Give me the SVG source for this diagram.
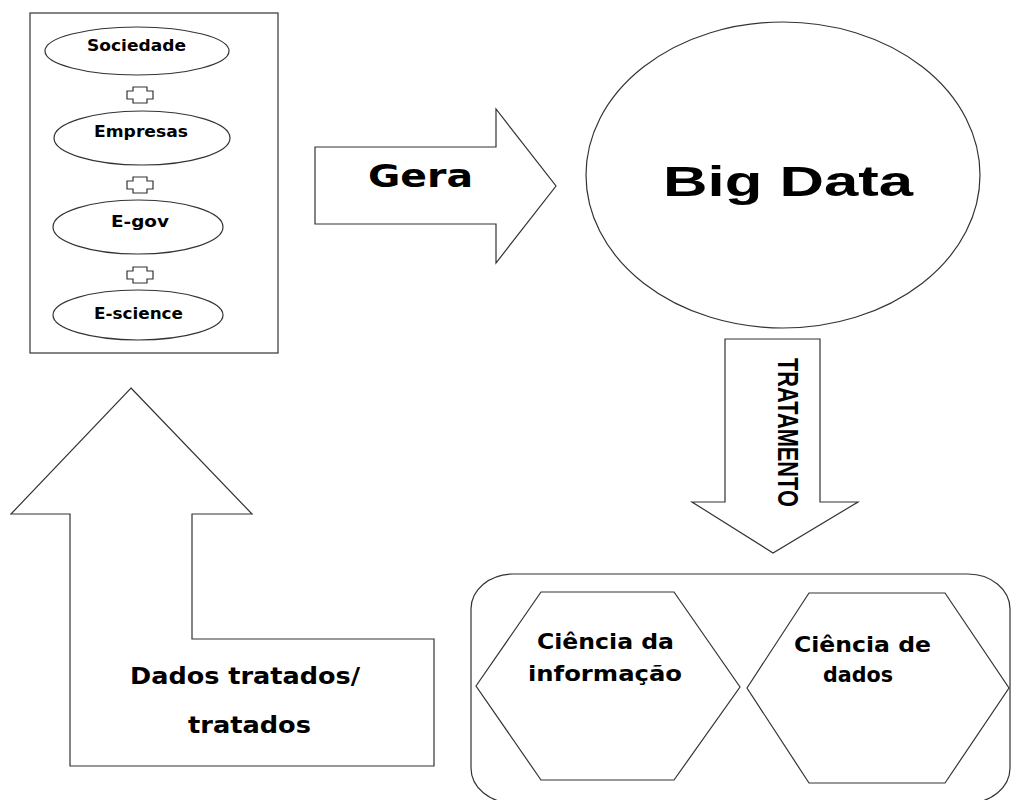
<svg xmlns="http://www.w3.org/2000/svg" width="1011" height="800" viewBox="0 0 1011 800">
<defs>
<style>
.s{fill:#fff;stroke:#333;stroke-width:1.2;stroke-linejoin:miter}
.t{font-family:"DejaVu Sans","Verdana",sans-serif;font-weight:bold;fill:#000}
.a{font-family:"Liberation Sans","Arial",sans-serif;font-weight:bold;fill:#000}
</style>
<path id="plus" d="M-7,-8 H7 V-4 H13 V4 H7 V8 H-7 V4 H-13 V-4 H-7 Z"/>
</defs>
<rect width="1011" height="800" fill="#fff"/>

<g id="sources">
<rect class="s" x="30" y="13" width="248" height="340"/>
<g id="sociedade"><ellipse class="s" cx="137" cy="51" rx="92" ry="24"/><text class="t" x="87" y="51" font-size="16.5" textLength="99" lengthAdjust="spacingAndGlyphs">Sociedade</text></g>
<g id="empresas"><ellipse class="s" cx="142" cy="138" rx="88" ry="27"/><text class="t" x="94" y="137" font-size="16.5" textLength="94" lengthAdjust="spacingAndGlyphs">Empresas</text></g>
<g id="egov"><ellipse class="s" cx="138" cy="227" rx="85" ry="27"/><text class="t" x="111" y="227" font-size="16.5" textLength="58" lengthAdjust="spacingAndGlyphs">E-gov</text></g>
<g id="escience"><ellipse class="s" cx="138" cy="315" rx="85" ry="25"/><text class="t" x="94" y="319" font-size="16.5" textLength="89" lengthAdjust="spacingAndGlyphs">E-science</text></g>
<use href="#plus" class="s" x="140" y="95"/>
<use href="#plus" class="s" x="140" y="185"/>
<use href="#plus" class="s" x="140" y="275"/>
</g>

<g id="bigdata">
<ellipse class="s" cx="783" cy="175" rx="197" ry="153"/>
<text class="a" x="663" y="196" font-size="43" textLength="250" lengthAdjust="spacingAndGlyphs">Big Data</text>
</g>

<g id="ciencias">
<rect class="s" x="471" y="574" width="539" height="229" rx="42" ry="35"/>
<g id="ci"><polygon class="s" points="476,686 541,592 674,592 740,687 674,780 541,780"/>
<text class="t" x="537" y="649" font-size="21.5" textLength="137" lengthAdjust="spacingAndGlyphs">Ciência da</text>
<text class="t" x="528" y="681" font-size="21.5" textLength="154" lengthAdjust="spacingAndGlyphs">informação</text></g>
<g id="cd"><polygon class="s" points="747,688 809,593 945,593 1009,688 945,783 809,783"/>
<text class="t" x="794" y="652" font-size="21.5" textLength="137" lengthAdjust="spacingAndGlyphs">Ciência de</text>
<text class="t" x="823" y="682" font-size="21.5" textLength="70" lengthAdjust="spacingAndGlyphs">dados</text></g>
</g>

<g id="connectors">
<g id="gera"><polygon class="s" points="315,147 496,147 496,109 556,186 496,263 496,224 315,224"/>
<text class="t" x="368" y="187" font-size="32" textLength="105" lengthAdjust="spacingAndGlyphs">Gera</text></g>
<g id="tratamento"><polygon class="s" points="725,339 820,339 820,502 858,502 773,553 692,502 725,502"/>
<text class="a" transform="translate(778,358) rotate(90)" x="0" y="0" font-size="30" textLength="149" lengthAdjust="spacingAndGlyphs">TRATAMENTO</text></g>
<g id="dados"><polygon class="s" points="131,388 252,514 192,514 192,639 434,639 434,766 70,766 70,514 11,514"/>
<text class="t" x="130" y="684" font-size="23" textLength="230" lengthAdjust="spacingAndGlyphs">Dados tratados/</text>
<text class="t" x="188" y="733" font-size="23" textLength="123" lengthAdjust="spacingAndGlyphs">tratados</text></g>
</g>
</svg>
